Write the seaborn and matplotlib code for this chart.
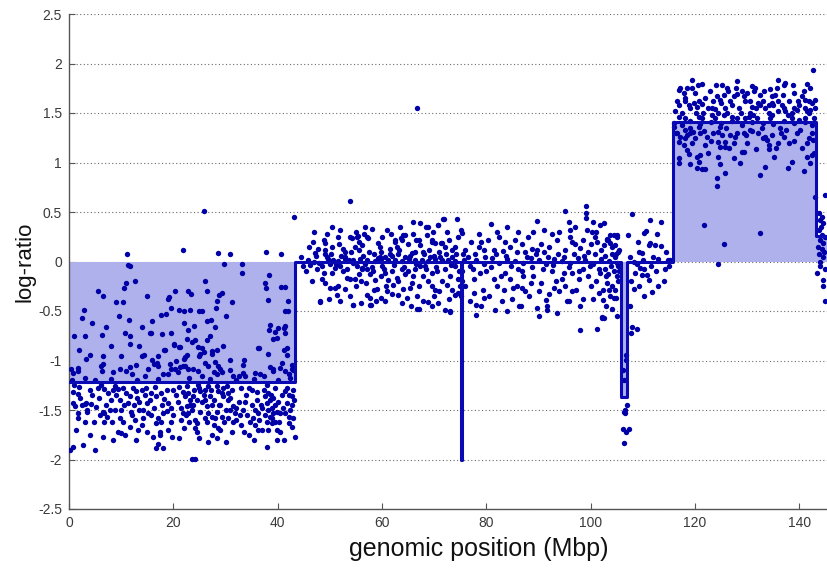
import matplotlib
matplotlib.use("Agg")
import matplotlib.pyplot as plt
import seaborn as sns
import pandas as pd

# ---------------- data ----------------
seg_starts = [0.0, 43.3, 75.15, 75.25, 105.8, 107.0, 115.7, 143.2]
seg_ends = [43.3, 75.15, 75.25, 105.8, 107.0, 115.7, 143.2, 145.3]
seg_levels = [-1.22, 0.0, -2.0, 0.0, -1.37, 0.0, 1.41, 0.26]

seg1_pts = [
    (25.8, 0.51), (11.2, 0.08), (21.9, 0.12), (28.6, 0.09), (30.9, 0.08), (37.7, 0.10), (40.7, 0.08), (43.1, 0.45),
    (11.4, -0.04), (11.7, -0.05), (29.7, -0.03), (33.1, -0.03), (33.2, -0.12), (38.4, -0.14), (37.5, -0.22),
    (37.8, -0.27), (40.7, -0.26), (41.5, -0.26), (12.7, -0.20), (11.0, -0.22), (10.5, -0.27), (6.5, -0.35),
    (19.1, -0.36), (20.3, -0.30), (22.9, -0.30), (23.3, -0.33), (26.4, -0.30), (28.7, -0.34), (29.3, -0.32),
    (9.1, -0.41), (10.4, -0.41), (19.0, -0.38), (38.2, -0.39), (31.2, -0.41),
    (2.9, -0.49), (2.5, -0.57), (11.5, -0.59), (17.7, -0.54), (18.5, -0.53), (19.6, -0.47), (21.1, -0.49),
    (22.0, -0.50), (23.2, -0.49), (25.4, -0.50), (28.3, -0.40), (28.1, -0.47), (24.9, -0.50), (41.4, -0.50),
    (41.9, -0.50), (26.4, -0.60), (27.3, -0.59), (28.0, -0.66), (22.0, -0.62), (22.9, -0.69), (38.5, -0.64),
    (38.4, -0.69), (39.5, -0.71), (40.1, -0.67), (41.5, -0.72), (41.2, -0.67), (41.4, -0.65), (39.2, -0.78),
    (39.8, -0.77), (6.4, -0.74), (7.0, -0.66), (10.7, -0.72), (11.6, -0.75), (11.6, -0.83), (15.5, -0.72),
    (17.9, -0.73), (14.0, -0.66), (15.7, -0.72), (18.3, -0.89), (20.1, -0.83), (21.0, -0.86), (2.0, -0.89),
    (4.0, -0.94), (3.3, -0.98), (6.5, -0.95), (6.6, -1.04), (22.6, -0.78), (23.5, -0.81), (24.2, -0.79),
    (24.8, -0.86), (25.4, -0.87), (25.1, -0.93), (26.4, -0.79), (27.4, -0.90), (28.3, -0.89), (36.4, -0.87),
    (36.3, -0.87), (38.2, -0.93), (41.7, -0.87), (41.7, -0.94), (41.3, -0.89), (25.8, -0.91), (27.4, -0.93),
    (22.6, -0.94), (22.1, -0.98), (25.0, -0.95), (18.4, -0.89), (20.2, -0.84), (21.3, -0.86), (14.3, -0.94),
    (13.9, -0.95),
    (1.7, -1.08), (1.7, -1.11), (0.4, -1.09), (0.7, -1.13), (6.2, -1.06), (6.4, -1.11), (8.4, -1.12),
    (9.8, -1.09), (11.6, -1.07), (11.0, -1.11), (12.0, -1.14), (12.9, -1.05), (16.3, -1.04), (17.1, -1.06),
    (19.0, -1.14), (19.3, -1.04), (19.6, -1.09), (20.3, -1.09), (20.9, -1.12), (21.9, -1.06), (22.2, -0.96),
    (14.5, -1.16), (15.1, -1.09), (16.9, -1.03), (15.9, -0.99), (18.0, -1.14), (21.3, -1.07), (23.8, -1.09),
    (22.2, -1.06), (22.9, -1.09), (26.1, -1.03), (26.7, -1.06), (28.0, -1.02), (28.6, -1.06), (28.9, -1.09),
    (27.7, -1.12), (28.3, -1.14), (29.3, -1.12), (30.9, -0.99), (33.6, -0.99), (33.4, -1.05), (33.7, -1.16),
    (38.5, -1.07), (39.2, -1.11), (40.4, -1.08), (41.4, -1.11), (42.1, -1.14), (42.4, -1.18), (24.8, -1.11),
    (25.4, -1.16), (36.6, -1.14), (37.3, -1.16), (31.5, -1.16), (32.5, -1.16), (42.7, -1.09), (43.0, -1.06),
    (30.9, -1.10), (35.7, -1.13), (33.4, -1.13), (39.2, -1.09), (40.8, -1.03), (42.7, -1.05), (43.0, -1.10),
    (3.0, -1.18), (5.0, -1.20), (8.0, -1.19), (13.0, -1.20), (17.0, -1.19), (23.0, -1.18), (27.0, -1.19),
    (32.0, -1.20), (35.5, -1.19), (40.0, -1.20),
    (0.8, -1.32), (1.7, -1.34), (0.8, -1.43), (1.1, -1.46), (3.3, -1.43), (4.3, -1.44), (1.7, -1.53),
    (1.7, -1.58), (3.0, -1.62), (1.4, -1.70), (2.7, -1.85), (0.8, -1.87), (0.2, -1.90), (6.2, -1.25),
    (6.8, -1.29), (8.8, -1.26), (9.4, -1.29), (10.4, -1.28), (11.0, -1.33), (11.6, -1.36), (11.3, -1.43),
    (12.9, -1.31), (13.9, -1.30), (14.5, -1.35), (15.8, -1.33), (16.7, -1.36), (17.7, -1.33), (18.3, -1.39),
    (19.0, -1.43), (6.5, -1.52), (6.8, -1.53), (7.8, -1.50), (8.8, -1.50), (9.7, -1.58), (10.4, -1.62),
    (12.0, -1.55), (12.6, -1.60), (13.5, -1.50), (14.2, -1.50), (15.1, -1.53), (15.8, -1.55), (17.1, -1.58),
    (18.0, -1.53), (18.7, -1.51), (16.7, -1.63), (17.7, -1.62), (6.8, -1.62), (6.5, -1.77), (9.4, -1.72),
    (10.0, -1.73), (11.6, -1.67), (13.2, -1.70), (16.1, -1.77), (17.4, -1.72), (17.4, -1.75), (17.1, -1.84),
    (16.7, -1.88), (19.7, -1.77), (21.5, -1.48), (21.9, -1.53), (21.5, -1.60),
    (22.6, -1.26), (22.9, -1.33), (23.2, -1.40), (22.6, -1.46), (23.5, -1.50), (22.9, -1.53), (23.2, -1.45),
    (23.8, -1.36), (22.2, -1.36), (24.2, -1.60), (24.5, -1.63), (24.5, -1.72), (24.2, -1.68), (23.5, -1.99),
    (24.2, -1.99), (24.8, -1.25), (25.1, -1.31), (26.1, -1.30), (26.7, -1.26), (27.0, -1.36), (26.1, -1.40),
    (26.4, -1.46), (27.4, -1.45), (26.7, -1.53), (27.4, -1.57), (28.3, -1.52), (27.7, -1.65), (28.6, -1.68),
    (28.9, -1.70), (26.7, -1.82), (28.3, -1.78), (28.3, -1.26), (28.6, -1.31), (29.3, -1.33), (29.6, -1.36),
    (30.2, -1.26), (30.5, -1.33), (30.5, -1.40), (30.9, -1.50), (31.5, -1.46), (31.8, -1.53), (30.5, -1.58),
    (31.5, -1.62), (32.1, -1.60), (31.2, -1.72), (29.3, -1.57), (33.4, -1.50), (34.1, -1.55), (34.7, -1.62),
    (35.7, -1.65), (35.0, -1.45), (36.0, -1.40), (35.7, -1.50), (36.3, -1.53), (37.3, -1.30), (37.6, -1.36),
    (38.2, -1.33), (37.9, -1.43), (38.5, -1.40), (39.2, -1.38), (38.2, -1.50), (38.9, -1.48), (39.5, -1.45),
    (38.5, -1.57), (39.2, -1.53), (39.8, -1.52), (40.5, -1.53), (37.9, -1.62), (38.9, -1.63), (39.5, -1.62),
    (38.2, -1.70), (39.8, -1.70), (39.8, -1.80), (37.9, -1.87), (41.4, -1.31), (42.1, -1.35), (42.7, -1.36),
    (41.7, -1.43), (42.7, -1.45), (41.4, -1.53), (42.1, -1.57), (42.1, -1.63), (42.7, -1.67), (43.3, -1.77),
    (2.5, -1.45), (3.0, -1.44), (4.8, -1.62), (6.0, -1.55), (7.2, -1.57), (8.0, -1.40), (9.0, -1.35),
    (10.0, -1.50), (4.0, -1.30), (5.5, -1.28), (2.0, -1.27), (7.5, -1.33), (10.8, -1.75), (12.5, -1.45),
    (14.0, -1.65), (15.0, -1.43), (20.0, -1.55), (20.5, -1.35), (19.5, -1.62), (21.0, -1.78), (18.0, -1.88),
    (20.0, -1.30), (21.0, -1.27), (13.0, -1.38), (14.8, -1.28), (33.0, -1.28), (34.0, -1.35), (35.0, -1.30),
    (36.5, -1.60), (37.0, -1.70), (32.5, -1.42), (33.0, -1.65), (34.5, -1.75), (29.8, -1.62), (29.0, -1.45),
    (26.0, -1.58), (25.5, -1.42), (25.0, -1.28),
    (0.5, -1.20), (1.0, -1.25), (2.2, -1.38), (3.5, -1.52), (4.5, -1.35), (5.2, -1.47), (5.8, -1.38),
    (7.0, -1.45), (8.2, -1.62), (8.5, -1.30), (9.8, -1.40), (10.5, -1.45), (11.8, -1.52), (12.2, -1.28),
    (13.5, -1.42), (14.2, -1.58), (15.5, -1.40), (16.2, -1.48), (16.5, -1.27), (17.8, -1.45), (18.8, -1.30),
    (19.5, -1.48), (20.8, -1.42), (21.8, -1.32), (22.4, -1.55), (23.0, -1.62), (23.8, -1.45), (24.0, -1.30),
    (24.6, -1.40), (25.2, -1.52), (25.8, -1.35), (26.5, -1.62), (27.2, -1.30), (27.8, -1.40), (28.0, -1.58),
    (28.8, -1.45), (29.5, -1.28), (30.0, -1.50), (30.8, -1.38), (31.2, -1.30), (32.0, -1.48), (32.8, -1.55),
    (33.8, -1.42), (34.5, -1.28), (35.2, -1.58), (36.0, -1.32), (36.8, -1.45), (37.5, -1.55), (38.0, -1.25),
    (38.8, -1.35), (39.0, -1.58), (39.5, -1.28), (40.0, -1.42), (40.2, -1.62), (40.8, -1.35), (41.0, -1.48),
    (41.8, -1.28), (42.3, -1.50), (42.9, -1.30), (43.2, -1.40), (43.0, -1.58), (37.0, -1.48), (36.2, -1.70),
    (40.5, -1.72), (41.2, -1.80), (35.5, -1.80), (33.5, -1.72), (30.0, -1.82), (27.5, -1.75), (25.0, -1.78),
    (22.0, -1.68), (19.0, -1.70), (15.0, -1.72), (12.8, -1.80), (8.5, -1.80), (4.0, -1.75), (5.0, -1.90),
    (3.5, -1.50), (1.0, -0.75), (4.5, -0.62), (8.0, -0.85), (9.5, -0.55), (13.5, -0.85), (16.0, -0.60),
    (19.5, -0.72), (24.0, -0.65), (27.0, -0.75), (29.5, -0.85), (30.0, -0.55), (5.5, -0.30), (15.0, -0.35),
    (26.0, -0.20), (17.0, -0.95), (20.5, -1.00), (10.0, -0.95), (3.0, -0.75), (42.0, -0.40),
]

seg2_pts = [
    (53.9, 0.61), (66.7, 1.55), (50.4, 0.35), (48.8, 0.22), (49.1, 0.19), (47.2, 0.09), (47.8, 0.13),
    (49.1, 0.08), (49.4, 0.05), (52.6, 0.13), (52.9, 0.10), (54.2, 0.24), (55.2, 0.25), (55.5, 0.20),
    (54.8, 0.15), (55.5, 0.12), (56.1, 0.17), (57.3, 0.24), (58.0, 0.33), (59.3, 0.19), (59.6, 0.15),
    (59.9, 0.10), (61.5, 0.13), (62.5, 0.20), (62.8, 0.15), (63.8, 0.22), (64.1, 0.27), (65.7, 0.09),
    (66.3, 0.10), (67.0, 0.22), (67.3, 0.17), (67.3, 0.39), (68.9, 0.35), (68.6, 0.27), (69.5, 0.20),
    (70.2, 0.19), (70.8, 0.37), (71.8, 0.43), (71.5, 0.19), (72.1, 0.15), (73.4, 0.12), (74.0, 0.15),
    (74.3, 0.43), (48.5, -0.05), (48.8, -0.12), (48.5, -0.18), (50.0, -0.03), (51.0, -0.07), (52.0, -0.05),
    (53.6, 0.02), (54.5, -0.02), (50.0, -0.27), (51.0, -0.27), (51.6, -0.25), (51.3, -0.34), (53.2, -0.17),
    (53.9, -0.18), (54.8, -0.18), (55.5, -0.13), (56.1, -0.07), (56.8, -0.03), (57.1, -0.08), (57.7, -0.13),
    (58.4, -0.29), (58.7, -0.19), (59.9, -0.15), (60.6, -0.12), (61.2, -0.19), (62.2, -0.24), (62.8, -0.17),
    (63.8, -0.08), (64.4, -0.13), (65.4, -0.27), (65.7, -0.22), (66.3, -0.08), (67.3, -0.05), (67.9, -0.15),
    (68.9, -0.20), (69.5, -0.25), (70.2, -0.29), (71.5, -0.20), (72.4, -0.24), (73.4, -0.29), (74.0, -0.34),
    (74.6, -0.18), (75.0, -0.25), (74.6, -0.32), (53.9, -0.35), (57.1, -0.34), (57.7, -0.37), (59.9, -0.37),
    (63.1, -0.34), (67.9, -0.40), (68.9, -0.41), (70.8, -0.42), (72.1, -0.49), (73.0, -0.50), (48.1, -0.40),
    (54.5, -0.44), (57.7, -0.44), (64.7, -0.37), (67.0, -0.48), (69.5, -0.45), (48.1, -0.41), (54.4, -0.44),
    (66.7, -0.48), (73.1, -0.51), (49.7, 0.03), (50.7, 0.02), (51.6, 0.01), (52.9, 0.03), (54.5, 0.02),
    (55.8, 0.03), (57.1, 0.02), (58.7, 0.01), (59.9, 0.03), (61.2, 0.02), (62.5, 0.02), (63.8, 0.01),
    (65.1, 0.03), (66.3, 0.02), (67.6, 0.02), (68.9, 0.01), (70.2, 0.03), (71.5, 0.02), (72.7, 0.02),
    (74.0, 0.01), (46.0, 0.15), (45.5, -0.10), (47.0, 0.30), (49.5, 0.28), (50.5, 0.15), (51.5, 0.25),
    (52.0, 0.32), (53.0, 0.05), (55.0, 0.30), (56.5, 0.28), (58.5, 0.08), (60.0, 0.25), (60.5, 0.05),
    (61.0, 0.32), (62.0, 0.06), (63.0, 0.08), (64.5, 0.05), (65.0, 0.18), (66.0, 0.28), (68.0, 0.08),
    (69.0, 0.12), (70.0, 0.06), (71.0, 0.10), (72.5, 0.30), (73.5, 0.05), (74.5, 0.25), (46.5, -0.20),
    (47.5, -0.08), (49.0, -0.22), (50.5, -0.12), (52.5, -0.10), (53.0, -0.28), (55.0, -0.25), (56.0, -0.20),
    (57.0, -0.22), (58.0, -0.06), (59.0, -0.28), (60.0, -0.05), (61.0, -0.30), (62.0, -0.10), (63.0, -0.20),
    (64.0, -0.28), (65.0, -0.10), (66.0, -0.15), (67.0, -0.25), (68.5, -0.08), (69.5, -0.12), (70.5, -0.10),
    (71.0, -0.30), (72.0, -0.08), (73.0, -0.15), (74.0, -0.05), (56.0, -0.42), (60.5, -0.40), (62.0, -0.33),
    (65.5, -0.45), (70.0, -0.35), (52.0, -0.40), (47.0, 0.00), (44.5, 0.05), (57.2, 0.25), (57.8, -0.44),
    (53.9, 0.25), (62.5, 0.22), (63.7, 0.24), (64.4, 0.27), (66.6, 0.22), (68.5, 0.35), (70.7, 0.37),
    (71.7, 0.43), (69.5, 0.22), (71.4, 0.19), (55.4, 0.26), (56.1, -0.08), (59.6, 0.05),
    (75.2, 0.32), (75.4, 0.29), (75.3, -0.10), (75.3, -0.20), (75.5, 0.08), (75.2, -0.35),
    (44.8, -0.05), (45.8, 0.02), (46.2, -0.04), (47.3, 0.06), (48.0, -0.02), (49.0, 0.12), (50.2, 0.08),
    (51.2, -0.03), (52.2, 0.06), (53.3, -0.08), (54.0, 0.10), (55.2, -0.05), (56.3, 0.06), (57.5, 0.10),
    (58.2, -0.10), (59.2, 0.04), (60.3, -0.08), (61.5, 0.08), (62.3, -0.04), (63.3, 0.12), (64.2, -0.06),
    (65.3, 0.06), (66.5, -0.03), (67.8, 0.10), (68.2, -0.05), (69.2, 0.05), (70.4, -0.06), (71.2, 0.05),
    (72.2, 0.08), (73.2, -0.04), (74.2, 0.08), (74.8, -0.10), (46.8, 0.20), (51.8, 0.18), (56.8, 0.35),
    (61.8, 0.28), (63.5, 0.35), (66.0, 0.40), (69.8, 0.30), (72.8, 0.22), (60.8, -0.25), (58.8, -0.40),
    (63.8, -0.42), (49.8, -0.38), (66.8, -0.35), (72.8, -0.38),
]

seg3_pts = [
    (99.1, 0.56), (95.1, 0.51), (89.7, 0.41), (80.9, 0.38), (95.8, 0.40), (96.1, 0.32), (99.1, 0.49),
    (99.1, 0.44), (100.4, 0.40), (101.8, 0.37), (99.3, 0.32), (100.2, 0.30), (103.1, 0.22), (103.7, 0.27),
    (105.0, 0.27), (77.0, 0.20), (79.0, 0.20), (80.3, 0.22), (86.8, 0.18), (88.8, 0.13), (83.2, 0.11),
    (96.4, 0.20), (98.0, 0.14), (101.2, 0.20), (102.5, 0.17), (77.7, -0.18), (77.7, -0.32), (79.3, -0.29),
    (79.6, -0.37), (78.0, -0.44), (78.0, -0.54), (81.4, -0.18), (82.0, -0.25), (83.3, -0.29), (84.6, -0.18),
    (85.2, -0.27), (85.9, -0.25), (86.9, -0.27), (87.5, -0.30), (88.2, -0.35), (86.6, -0.45), (89.8, -0.47),
    (91.4, -0.39), (91.7, -0.45), (93.0, -0.27), (93.3, -0.20), (94.5, -0.18), (95.8, -0.40), (97.1, -0.29),
    (97.8, -0.18), (100.0, -0.25), (101.0, -0.20), (101.6, -0.32), (102.3, -0.39), (103.5, -0.29),
    (104.8, -0.37), (81.6, -0.49), (86.3, -0.45), (102.6, -0.57), (91.7, -0.49), (97.9, -0.69),
    (101.2, -0.68), (102.1, -0.57), (104.0, -0.48), (95.5, -0.40), (102.5, 0.39), (103.1, 0.23),
    (103.4, 0.22), (103.7, 0.19), (104.4, 0.27), (105.0, 0.25), (104.7, 0.17), (104.0, 0.08), (104.7, 0.05),
    (105.3, 0.10), (102.8, -0.08), (103.4, -0.13), (104.4, -0.10), (105.0, -0.15), (103.1, -0.22),
    (104.0, -0.25), (104.7, -0.29), (103.7, -0.35), (105.3, -0.20), (104.4, -0.37), (102.4, -0.29),
    (102.1, -0.56), (76.5, 0.05), (78.0, 0.02), (79.5, -0.03), (81.0, 0.04), (82.5, -0.02), (84.0, 0.03),
    (85.5, 0.01), (87.0, -0.02), (88.5, 0.04), (90.0, 0.02), (91.5, -0.03), (93.0, 0.03), (94.5, 0.01),
    (96.0, -0.02), (97.5, 0.04), (99.0, 0.02), (100.5, -0.03), (102.0, 0.03), (103.5, 0.01), (105.0, -0.02),
    (76.0, 0.12), (77.5, -0.08), (78.5, 0.15), (80.0, -0.10), (81.5, 0.12), (82.5, 0.25), (83.5, -0.12),
    (84.5, 0.15), (85.5, 0.22), (86.0, -0.08), (87.5, 0.10), (88.0, 0.25), (89.0, -0.15), (89.5, 0.08),
    (90.5, 0.18), (90.5, -0.22), (91.0, 0.10), (92.0, 0.15), (92.5, -0.10), (93.5, 0.22), (94.0, -0.30),
    (95.0, 0.12), (96.5, -0.12), (97.0, 0.18), (98.5, -0.08), (99.5, 0.10), (100.0, 0.18), (101.5, -0.08),
    (102.0, 0.12), (103.0, -0.15), (104.0, 0.15), (105.3, -0.05), (76.0, -0.25), (80.5, -0.35),
    (83.0, -0.40), (87.0, -0.15), (88.5, -0.22), (92.0, -0.33), (94.8, -0.12), (96.5, -0.30), (98.5, -0.38),
    (99.5, -0.15), (82.0, 0.30), (86.0, 0.30), (92.5, 0.28), (97.0, 0.35), (79.5, 0.12), (83.5, 0.20),
    (94.0, 0.30), (100.8, 0.25), (89.0, 0.30), (84.0, -0.50), (93.5, -0.52), (98.0, -0.45), (76.8, -0.40),
    (90.0, -0.55),
    (75.8, 0.02), (76.8, -0.05), (77.8, 0.08), (78.8, -0.12), (79.8, 0.05), (80.8, -0.06), (81.8, 0.08),
    (82.8, -0.15), (83.8, 0.06), (84.8, -0.05), (85.8, 0.10), (86.8, -0.10), (87.8, 0.05), (88.8, -0.06),
    (89.8, 0.12), (90.8, -0.08), (91.8, 0.05), (92.8, -0.04), (93.8, 0.08), (94.8, 0.05), (95.8, -0.06),
    (96.8, 0.08), (97.8, -0.10), (98.8, 0.06), (99.8, -0.05), (100.8, 0.08), (101.8, -0.12), (102.8, 0.06),
    (103.8, -0.05), (104.8, 0.08), (105.5, -0.10), (105.5, 0.12), (78.5, 0.28), (84.0, 0.35), (91.0, 0.32),
    (96.0, 0.25), (98.5, 0.22), (101.0, 0.30), (79.0, -0.45), (85.0, -0.38), (90.0, -0.30), (95.0, -0.25),
    (100.5, -0.38), (103.0, -0.45), (105.0, -0.55),
]

dip_pts = [
    (106.6, -1.50), (107.0, -1.45), (106.3, -1.52), (106.6, -1.53), (106.2, -1.69), (106.8, -1.72),
    (107.3, -1.69), (106.3, -1.83), (106.7, -0.94), (106.7, -0.99), (106.2, -1.10), (106.4, -1.20),
]

seg4_pts = [
    (108.0, 0.48), (111.3, 0.42), (113.5, 0.40), (110.6, 0.31), (110.2, 0.29), (111.4, 0.19), (111.1, 0.17),
    (112.4, 0.17), (113.4, 0.16), (109.2, 0.10), (109.8, 0.09), (107.2, 0.27), (108.3, 0.00), (108.9, -0.03),
    (109.5, -0.07), (110.2, -0.08), (109.8, -0.14), (110.8, -0.14), (111.1, -0.19), (108.3, -0.28),
    (110.2, -0.35), (111.8, -0.31), (114.0, -0.20), (114.3, -0.08), (113.0, 0.03), (114.9, 0.02),
    (107.6, -0.45), (108.0, -0.66), (108.8, -0.68), (107.7, -0.72), (107.5, 0.05), (108.5, -0.12),
    (109.0, 0.20), (110.0, 0.02), (111.5, -0.05), (112.0, 0.05), (112.5, -0.10), (113.0, -0.25),
    (114.5, 0.10), (115.0, -0.05), (107.8, -0.20), (109.3, -0.25), (112.8, 0.28), (115.3, 0.02),
]

seg5_pts = [
    (142.7, 1.93), (119.4, 1.83), (116.9, 1.73), (117.2, 1.75), (118.5, 1.75), (119.4, 1.75), (121.3, 1.79),
    (128.0, 1.82), (136.0, 1.83), (137.0, 1.78), (137.3, 1.80), (141.5, 1.79), (142.1, 1.75), (130.9, 1.77),
    (131.4, 1.72), (132.5, 1.68), (134.4, 1.74), (134.7, 1.67), (125.2, 1.78), (126.1, 1.75), (126.4, 1.72),
    (124.2, 1.67), (124.8, 1.63), (125.5, 1.68), (127.4, 1.67), (128.0, 1.69), (129.0, 1.72), (129.3, 1.67),
    (120.7, 1.62), (121.3, 1.59), (120.4, 1.56), (118.1, 1.62), (118.8, 1.58), (119.1, 1.55), (122.0, 1.65),
    (123.2, 1.55), (123.9, 1.54), (125.8, 1.55), (126.1, 1.50), (125.5, 1.48), (130.6, 1.62), (130.9, 1.56),
    (131.6, 1.55), (132.5, 1.58), (133.5, 1.55), (134.1, 1.58), (134.1, 1.50), (134.7, 1.48), (134.4, 1.45),
    (131.2, 1.48), (131.9, 1.45), (135.4, 1.68), (136.0, 1.62), (136.7, 1.58), (137.0, 1.55), (137.3, 1.52),
    (138.9, 1.55), (139.5, 1.53), (140.5, 1.67), (141.1, 1.63), (141.8, 1.62), (142.4, 1.60), (141.1, 1.55),
    (141.5, 1.52), (142.1, 1.53), (116.2, 1.52), (116.9, 1.46), (117.5, 1.50), (118.1, 1.45), (120.1, 1.50),
    (120.7, 1.46), (121.3, 1.45), (123.2, 1.48), (123.9, 1.45), (127.1, 1.46), (128.0, 1.45), (129.6, 1.45),
    (130.3, 1.46), (138.6, 1.45), (139.9, 1.43),
    (115.9, 1.36), (116.5, 1.30), (117.2, 1.26), (116.9, 1.21), (118.1, 1.33), (118.5, 1.28), (119.1, 1.30),
    (119.7, 1.31), (120.7, 1.36), (121.0, 1.30), (118.5, 1.13), (118.8, 1.09), (116.9, 1.00), (120.4, 1.06),
    (121.0, 1.08), (120.7, 1.01), (120.4, 0.94), (121.3, 0.93), (122.0, 1.18), (122.3, 1.26), (124.5, 1.31),
    (124.8, 1.36), (125.2, 1.28), (124.5, 1.21), (124.8, 1.16), (125.8, 1.16), (125.8, 1.21), (124.5, 1.06),
    (124.7, 0.98), (124.2, 0.84), (124.3, 0.76), (125.8, 0.89), (126.8, 1.28), (127.7, 1.26), (129.3, 1.30),
    (129.0, 1.11), (129.3, 1.11), (130.6, 1.33), (131.6, 1.14), (128.7, 0.99), (132.5, 0.87), (133.8, 1.23),
    (133.5, 1.26), (134.1, 1.18), (134.1, 1.14), (135.1, 1.06), (136.3, 1.35), (137.0, 1.26), (138.6, 1.01),
    (137.9, 0.94), (140.8, 0.91), (141.5, 1.06), (142.4, 1.08), (141.5, 1.20), (142.4, 1.30), (142.7, 1.23),
    (121.8, 0.37), (132.5, 0.29), (125.5, 0.18), (124.5, -0.03), (143.0, 1.63),
    (116.0, 1.40), (117.5, 1.38), (119.0, 1.42), (121.0, 1.39), (123.0, 1.41), (125.0, 1.40), (127.0, 1.42),
    (129.0, 1.38), (131.0, 1.41), (133.0, 1.40), (135.0, 1.39), (137.0, 1.42), (139.0, 1.40), (141.0, 1.41),
    (142.5, 1.38), (117.0, 1.05), (118.0, 1.25), (119.5, 1.20), (122.5, 1.10), (123.5, 1.30), (126.5, 1.15),
    (128.0, 1.30), (130.0, 1.20), (132.0, 1.30), (133.0, 1.25), (135.5, 1.15), (136.5, 1.30), (138.0, 1.20),
    (139.5, 1.30), (140.5, 1.15), (142.0, 1.00), (127.5, 1.05), (119.0, 0.98), (133.5, 0.95), (122.0, 0.93),
    (118.0, 1.65), (120.0, 1.70), (122.5, 1.55), (124.0, 1.78), (127.0, 1.58), (128.5, 1.55), (131.5, 1.75),
    (133.0, 1.62), (136.0, 1.52), (138.0, 1.62), (139.0, 1.70), (140.0, 1.58), (141.0, 1.45), (143.0, 1.55),
    (117.0, 1.58), (121.5, 1.50), (125.0, 1.60), (129.5, 1.62), (135.0, 1.58), (138.5, 1.50),
    (116.5, 1.62), (117.8, 1.70), (119.8, 1.60), (120.5, 1.78), (122.8, 1.72), (123.5, 1.62), (124.5, 1.50),
    (126.8, 1.62), (127.8, 1.75), (128.8, 1.50), (130.0, 1.70), (130.5, 1.50), (132.0, 1.60), (133.2, 1.72),
    (134.8, 1.60), (135.8, 1.75), (136.8, 1.68), (137.8, 1.48), (138.8, 1.78), (139.8, 1.62), (140.8, 1.72),
    (141.8, 1.50), (142.8, 1.45), (116.3, 1.30), (117.8, 1.18), (119.0, 1.35), (120.0, 1.25), (121.8, 1.32),
    (123.0, 1.22), (126.0, 1.35), (127.5, 1.20), (129.8, 1.28), (131.0, 1.32), (132.8, 1.35), (134.8, 1.28),
    (136.0, 1.20), (137.5, 1.33), (139.0, 1.22), (140.2, 1.33), (141.8, 1.25), (142.8, 1.10), (143.0, 0.65),
]

seg6_pts = [
    (143.7, 0.49), (144.3, 0.45), (144.0, 0.42), (144.6, 0.39), (143.7, 0.32), (144.3, 0.27), (144.9, 0.25),
    (144.0, 0.22), (144.6, 0.19), (144.3, 0.13), (143.7, 0.08), (144.6, 0.05), (144.0, -0.05), (144.9, -0.08),
    (143.4, -0.12), (144.6, -0.19), (144.9, -0.40), (144.6, -0.25), (145.0, 0.67), (143.5, 0.15),
    (144.2, 0.35), (143.9, 0.00), (144.8, 0.10),
]

y_ticks = [-2.5, -2.0, -1.5, -1.0, -0.5, 0.0, 0.5, 1.0, 1.5, 2.0, 2.5]
y_tick_labels = ["-2.5", "-2", "-1.5", "-1", "-0.5", "0", "0.5", "1", "1.5", "2", "2.5"]
x_ticks = [0, 20, 40, 60, 80, 100, 120, 140]
x_tick_labels = ["0", "20", "40", "60", "80", "100", "120", "140"]

# ---------------- build tables ----------------
all_pts = seg1_pts + seg2_pts + seg3_pts + dip_pts + seg4_pts + seg5_pts + seg6_pts
points = pd.DataFrame(all_pts, columns=["pos", "lr"])

line_x, line_y = [], []
for s, e, v in zip(seg_starts, seg_ends, seg_levels):
    line_x += [s, e]
    line_y += [v, v]
line_df = pd.DataFrame({"pos": line_x, "lr": line_y})

# ---------------- style ----------------
sns.set_theme(style="white")
plt.rcParams["font.family"] = ["Liberation Sans", "DejaVu Sans"]
plt.rcParams["axes.unicode_minus"] = False

W, H = 827, 568
fig = plt.figure(figsize=(W / 100, H / 100), dpi=100)
left, right, top, bottom = 69, 827, 14, 509
ax = fig.add_axes([left / W, 1 - bottom / H, (right - left) / W, (bottom - top) / H])

fill_color = "#aeb1ec"
line_color = "#0a0ab4"
dot_color = "#0000a6"

for s, e, v in zip(seg_starts, seg_ends, seg_levels):
    if e - s > 0.5:
        ax.fill_between([s, e], [0, 0], [v, v], color=fill_color, linewidth=0, zorder=1)

sns.scatterplot(data=points, x="pos", y="lr", color=dot_color, s=15, linewidth=0,
                ax=ax, zorder=3, legend=False)
sns.lineplot(data=line_df, x="pos", y="lr", sort=False, estimator=None, color=line_color,
             linewidth=2.2, ax=ax, zorder=4)

ax.set_xlim(0, 145.3)
ax.set_ylim(-2.5, 2.5)
ax.set_xticks(x_ticks)
ax.set_xticklabels(x_tick_labels)
ax.set_yticks(y_ticks)
ax.set_yticklabels(y_tick_labels)

ax.yaxis.grid(True, color="#6a6a6a", linestyle=(0, (1, 2.2)), linewidth=0.8, zorder=0)
ax.xaxis.grid(False)
ax.set_axisbelow(True)

for sp in ["top", "right"]:
    ax.spines[sp].set_visible(False)
for sp in ["left", "bottom"]:
    ax.spines[sp].set_color("#555555")
    ax.spines[sp].set_linewidth(1.0)

ax.tick_params(axis="both", direction="in", length=4, width=0.8, color="#555555",
               labelcolor="#3a3a3a", labelsize=10, pad=5)
ax.tick_params(axis="y", left=True)
ax.tick_params(axis="x", bottom=True)

ax.set_xlabel("genomic position (Mbp)", fontsize=18, color="#111111")
ax.set_ylabel("log-ratio", fontsize=16, color="#111111")
ax.xaxis.set_label_coords(0.541, -0.056)
ax.yaxis.set_label_coords(-0.044, 0.5)

fig.savefig("out.png", dpi=100, facecolor="white")
